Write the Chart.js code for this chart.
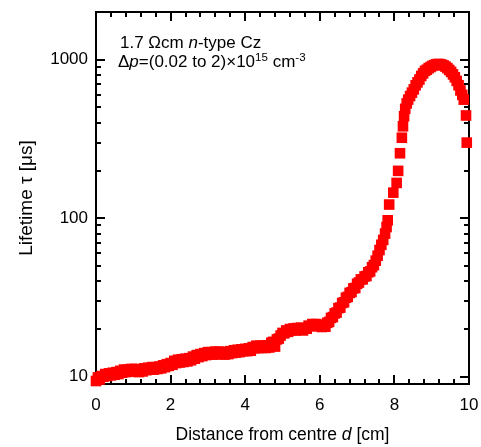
<!DOCTYPE html>
<html>
<head>
<meta charset="utf-8">
<script src="https://cdn.jsdelivr.net/npm/chart.js@4"></script>
<style>
  html, body { margin: 0; padding: 0; background: #fff; }
  canvas { display: block; }
</style>
</head>
<body>
<canvas id="lifetimeChart" width="481" height="447"></canvas>
<script>
// Distance from centre d [cm]
const distance = [
  0.00, 0.05, 0.10, 0.15, 0.20, 0.25, 0.30, 0.35, 0.40, 0.45,
  0.50, 0.55, 0.60, 0.65, 0.70, 0.75, 0.80, 0.85, 0.90, 0.95,
  1.00, 1.05, 1.10, 1.15, 1.20, 1.25, 1.30, 1.35, 1.40, 1.45,
  1.50, 1.55, 1.60, 1.65, 1.70, 1.75, 1.80, 1.85, 1.90, 1.95,
  2.00, 2.05, 2.10, 2.15, 2.20, 2.25, 2.30, 2.35, 2.40, 2.45,
  2.50, 2.55, 2.60, 2.65, 2.70, 2.75, 2.80, 2.85, 2.90, 2.95,
  3.00, 3.05, 3.10, 3.15, 3.20, 3.25, 3.30, 3.35, 3.40, 3.45,
  3.50, 3.55, 3.60, 3.65, 3.70, 3.75, 3.80, 3.85, 3.90, 3.95,
  4.00, 4.05, 4.10, 4.15, 4.20, 4.25, 4.30, 4.35, 4.40, 4.45,
  4.50, 4.55, 4.60, 4.65, 4.70, 4.75, 4.80, 4.85, 4.90, 4.95,
  5.00, 5.05, 5.10, 5.15, 5.20, 5.25, 5.30, 5.35, 5.40, 5.45,
  5.50, 5.55, 5.60, 5.65, 5.70, 5.75, 5.80, 5.85, 5.90, 5.95,
  6.00, 6.05, 6.10, 6.15, 6.20, 6.25, 6.30, 6.35, 6.40, 6.45,
  6.50, 6.55, 6.60, 6.65, 6.70, 6.75, 6.80, 6.85, 6.90, 6.95,
  7.00, 7.05, 7.10, 7.15, 7.20, 7.25, 7.30, 7.35, 7.40, 7.45,
  7.50, 7.55, 7.60, 7.65, 7.70, 7.75, 7.79, 7.82, 7.86, 7.97,
  8.06, 8.10, 8.15, 8.20, 8.23, 8.26, 8.29, 8.33, 8.37, 8.42,
  8.47, 8.52, 8.57, 8.62, 8.67, 8.72, 8.77, 8.82, 8.87, 8.92,
  8.97, 9.02, 9.07, 9.12, 9.17, 9.22, 9.27, 9.32, 9.37, 9.42,
  9.47, 9.52, 9.57, 9.62, 9.67, 9.72, 9.77, 9.82, 9.86, 9.92,
  9.94
];

// Lifetime tau [us]
const lifetime = [
  9.4, 9.9, 9.6, 10.1, 10.0, 10.4, 10.1, 10.5, 10.2, 10.6,
  10.3, 10.7, 10.4, 10.9, 10.6, 11.1, 10.7, 11.1, 10.8, 11.2,
  10.8, 11.2, 10.8, 10.7, 11.1, 10.8, 11.3, 11.0, 11.4, 11.1,
  11.5, 11.1, 11.5, 11.2, 11.6, 11.3, 11.8, 11.5, 12.0, 11.7,
  12.2, 11.9, 12.6, 12.2, 12.8, 12.3, 12.9, 12.4, 13.0, 12.5,
  13.1, 12.7, 13.4, 13.0, 13.7, 13.3, 13.9, 13.5, 14.1, 13.7,
  14.3, 13.8, 14.3, 13.8, 14.4, 13.9, 14.4, 13.9, 14.3, 13.8,
  14.3, 13.9, 14.5, 14.1, 14.7, 14.2, 14.8, 14.3, 14.9, 14.5,
  15.0, 14.5, 15.1, 14.6, 15.4, 15.1, 15.7, 15.2, 15.7, 15.2,
  15.7, 15.2, 15.8, 15.3, 16.4, 16.6, 15.5, 17.2, 17.4, 18.2,
  18.9, 18.8, 19.6, 19.2, 20.0, 19.6, 20.2, 19.6, 20.3, 19.9,
  20.4, 19.6, 20.2, 20.1, 21.0, 20.8, 21.5, 21.0, 21.5, 20.9,
  21.3, 20.6, 20.9, 20.7, 21.9, 22.2, 23.5, 23.8, 25.1, 25.4,
  27.1, 27.3, 29.2, 29.5, 31.5, 31.9, 33.8, 34.2, 36.1, 36.3,
  38.6, 39.3, 41.1, 41.2, 42.9, 43.2, 45.6, 46.2, 49.1, 50.6,
  54, 58, 63, 68, 73, 80, 88, 97, 122, 145,
  167, 199, 257, 322, 380, 440, 490, 530, 560, 590,
  620, 650, 690, 720, 750, 790, 820, 850, 865, 885,
  900, 915, 925, 935, 940, 938, 930, 920, 905, 885,
  862, 838, 808, 775, 735, 690, 640, 600, 560, 445,
  300
];

const xMajorTicks = [0, 2, 4, 6, 8, 10];
const xMinorTicks = [0.4, 0.8, 1.2, 1.6, 2.4, 2.8, 3.2, 3.6, 4.4, 4.8, 5.2, 5.6,
  6.4, 6.8, 7.2, 7.6, 8.4, 8.8, 9.2, 9.6];
const yMajorTicks = [10, 100, 1000];
const yMinorTicks = [9, 20, 30, 40, 50, 60, 70, 80, 90,
  200, 300, 400, 500, 600, 700, 800, 900, 2000];

const FONT = '"Liberation Sans", Arial, Helvetica, sans-serif';

// draw a list of text pieces (italic / superscript) one after another
function drawRuns(ctx, runs, x, y, size) {
  runs.forEach(r => {
    const fs = r.sup ? size * 0.68 : size;
    ctx.font = (r.it ? 'italic ' : '') + fs + 'px ' + FONT;
    ctx.fillText(r.t, x, r.sup ? y - size * 0.38 : y);
    x += ctx.measureText(r.t).width;
  });
}

function runsWidth(ctx, runs, size) {
  let w = 0;
  runs.forEach(r => {
    const fs = r.sup ? size * 0.68 : size;
    ctx.font = (r.it ? 'italic ' : '') + fs + 'px ' + FONT;
    w += ctx.measureText(r.t).width;
  });
  return w;
}

const frameAndTicks = {
  id: 'frameAndTicks',
  beforeDatasetsDraw(chart) {
    const ctx = chart.ctx;
    const a = chart.chartArea;
    const x = chart.scales.x, y = chart.scales.y;
    ctx.save();
    ctx.strokeStyle = '#000';
    ctx.lineWidth = 2;
    ctx.strokeRect(a.left, a.top, a.right - a.left, a.bottom - a.top);
    ctx.beginPath();
    const xt = (vals, len) => vals.forEach(v => {
      const px = Math.round(x.getPixelForValue(v));
      ctx.moveTo(px, a.bottom); ctx.lineTo(px, a.bottom - len);
      ctx.moveTo(px, a.top); ctx.lineTo(px, a.top + len);
    });
    const yt = (vals, len) => vals.forEach(v => {
      const py = Math.round(y.getPixelForValue(v));
      ctx.moveTo(a.left, py); ctx.lineTo(a.left + len, py);
      ctx.moveTo(a.right, py); ctx.lineTo(a.right - len, py);
    });
    xt(xMajorTicks, 9);
    xt(xMinorTicks, 5);
    yt(yMajorTicks, 9);
    yt(yMinorTicks, 5);
    ctx.stroke();
    ctx.restore();
  },
  afterDraw(chart) {
    const ctx = chart.ctx;
    const a = chart.chartArea;
    ctx.save();
    ctx.fillStyle = '#000';
    ctx.textBaseline = 'alphabetic';
    ctx.textAlign = 'left';

    // annotation
    drawRuns(ctx, [{t: '1.7 \u03A9cm '}, {t: 'n', it: true}, {t: '-type Cz'}], 120, 48, 17);
    drawRuns(ctx, [{t: '\u0394'}, {t: 'p', it: true}, {t: '=(0.02 to 2)\u00D710'},
      {t: '15', sup: true}, {t: ' cm'}, {t: '-3', sup: true}], 118, 67, 17);

    // x axis title
    const xRuns = [{t: 'Distance from centre '}, {t: 'd', it: true}, {t: ' [cm]'}];
    const xw = runsWidth(ctx, xRuns, 17.5);
    drawRuns(ctx, xRuns, (a.left + a.right) / 2 - xw / 2, 440, 17.5);

    // y axis title
    const yRuns = [{t: 'Lifetime \u03C4 [\u03BCs]'}];
    const yw = runsWidth(ctx, yRuns, 19);
    ctx.translate(32, (a.top + a.bottom) / 2);
    ctx.rotate(-Math.PI / 2);
    drawRuns(ctx, yRuns, -yw / 2, 0, 19);
    ctx.restore();
  }
};

const points = distance.map((d, i) => ({x: d, y: lifetime[i]}));

new Chart(document.getElementById('lifetimeChart'), {
  type: 'scatter',
  data: {
    datasets: [{
      data: points,
      pointStyle: 'rect',
      pointRadius: 7.5,
      pointHoverRadius: 7.5,
      backgroundColor: '#ff0000',
      borderWidth: 0,
      clip: false
    }]
  },
  options: {
    responsive: false,
    animation: false,
    events: [],
    layout: { padding: { left: 0, right: 12, top: 12, bottom: 0 } },
    plugins: { legend: { display: false }, tooltip: { enabled: false } },
    scales: {
      x: {
        type: 'linear',
        min: 0,
        max: 10,
        grid: { display: false },
        border: { display: false },
        ticks: {
          stepSize: 2,
          color: '#000',
          font: { family: FONT, size: 17 },
          padding: 3,
          maxRotation: 0,
          autoSkip: false
        },
        afterFit: s => { s.height = 63; s.paddingLeft = 0; s.paddingRight = 0; }
      },
      y: {
        type: 'logarithmic',
        min: 9,
        max: 2000,
        grid: { display: false },
        border: { display: false },
        ticks: {
          color: '#000',
          font: { family: FONT, size: 17 },
          padding: 0,
          autoSkip: false,
          callback: v => String(v)
        },
        afterBuildTicks: s => { s.ticks = yMajorTicks.map(v => ({ value: v })); },
        afterFit: s => { s.width = 96; s.paddingTop = 0; s.paddingBottom = 0; }
      }
    }
  },
  plugins: [frameAndTicks]
});
</script>
</body>
</html>
